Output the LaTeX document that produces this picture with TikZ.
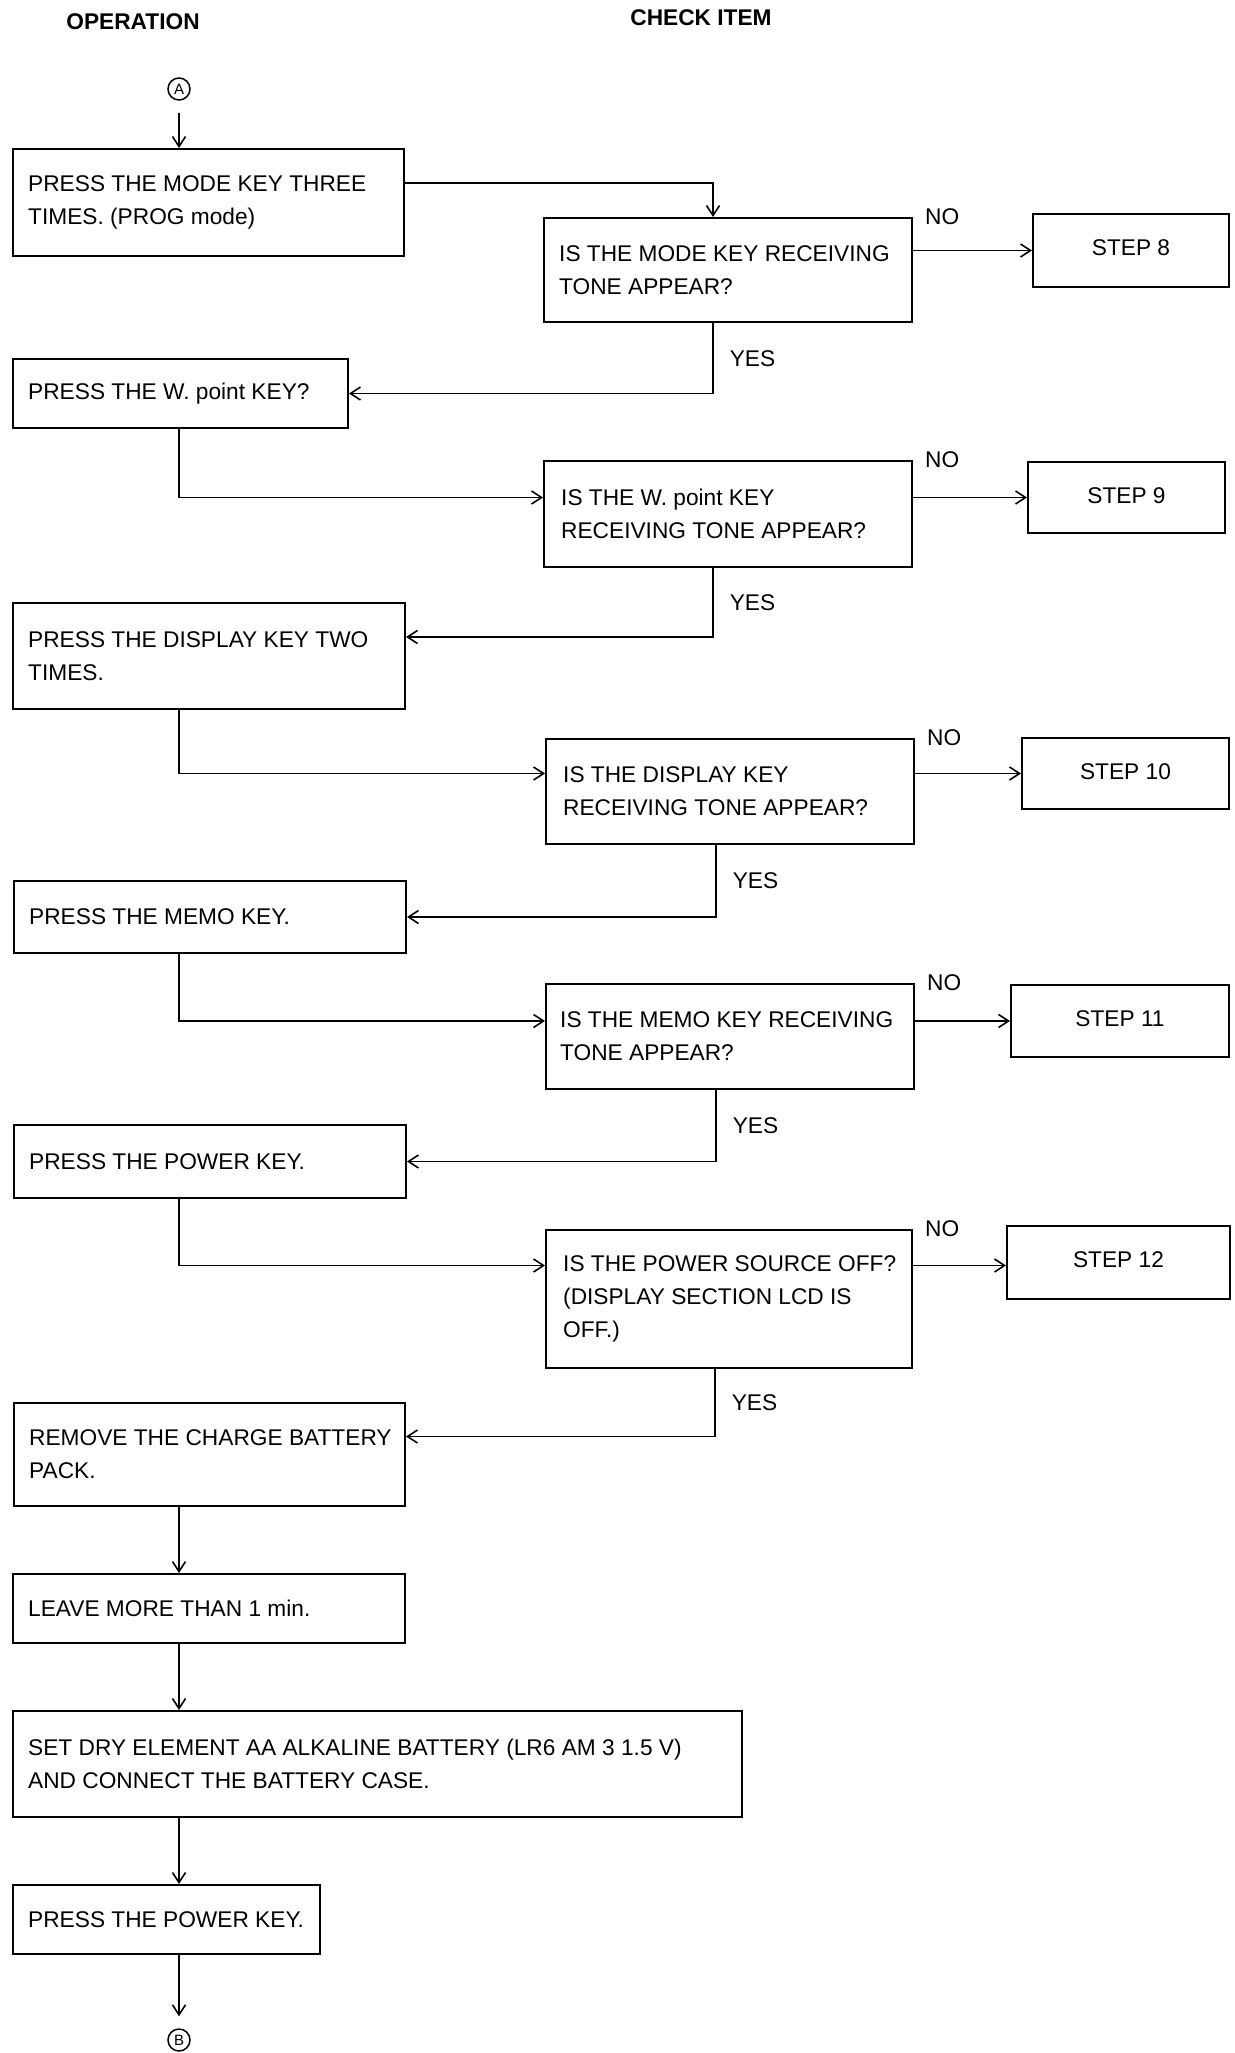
\documentclass[tikz,border=0pt]{standalone}
\usepackage{fontspec}
\setmainfont{Liberation Sans}
\usetikzlibrary{arrows.meta,calc}
\begin{document}
\begin{tikzpicture}[x=1pt,y=-1pt,
  box/.style={draw, line width=2pt, anchor=north west, inner sep=0pt},
  stepbox/.style={box, font=\fontsize{22.7pt}{33pt}\selectfont},
  txt/.style={anchor=west, inner sep=0pt, align=left, font=\fontsize{22.7pt}{33pt}\selectfont},
  lbl/.style={anchor=west, inner sep=0pt, font=\fontsize{22.7pt}{33pt}\selectfont},
  ttl/.style={inner sep=0pt, font=\fontsize{22.7pt}{27pt}\selectfont\bfseries},
  conn/.style={line width=1.6pt, -{Straight Barb[length=10pt,width=13pt,line width=1.6pt]}},
  term/.style={circle, draw, line width=1.5pt, minimum size=22pt, inner sep=0pt, font=\fontsize{15pt}{15pt}\selectfont}
]
\fill[white] (0,0) rectangle (1234,2053);
\useasboundingbox (0,0) rectangle (1234,2053);

% column headings
\node[ttl] (hop) at (133,22) {OPERATION};
\node[ttl] (hck) at (701,18) {CHECK ITEM};

% connectors in and out
\node[term] (A) at (179,89) {A};
\node[term] (B) at (179,2040) {B};

% operation boxes
\node[box, minimum width=391pt, minimum height=107pt] (o1) at (12,148) {};
\node[txt] (o1t) at ([xshift=16pt]o1.west) {PRESS THE MODE KEY THREE\\TIMES. (PROG mode)};
\node[box, minimum width=335pt, minimum height=69pt] (o2) at (12,358) {};
\node[txt] (o2t) at ([xshift=16pt]o2.west) {PRESS THE W. point KEY?};
\node[box, minimum width=392pt, minimum height=106pt] (o3) at (12,602) {};
\node[txt] (o3t) at ([xshift=16pt]o3.west) {PRESS THE DISPLAY KEY TWO\\TIMES.};
\node[box, minimum width=392pt, minimum height=72pt] (o4) at (13,880) {};
\node[txt] (o4t) at ([xshift=16pt]o4.west) {PRESS THE MEMO KEY.};
\node[box, minimum width=392pt, minimum height=73pt] (o5) at (13,1124) {};
\node[txt] (o5t) at ([xshift=16pt]o5.west) {PRESS THE POWER KEY.};
\node[box, minimum width=391pt, minimum height=103pt] (o6) at (13,1402) {};
\node[txt] (o6t) at ([xshift=16pt]o6.west) {REMOVE THE CHARGE BATTERY\\PACK.};
\node[box, minimum width=392pt, minimum height=69pt] (o7) at (12,1573) {};
\node[txt] (o7t) at ([xshift=16pt]o7.west) {LEAVE MORE THAN 1 min.};
\node[box, minimum width=729pt, minimum height=106pt] (o8) at (12,1710) {};
\node[txt] (o8t) at ([xshift=16pt]o8.west) {SET DRY ELEMENT AA ALKALINE BATTERY (LR6 AM 3 1.5 V)\\AND CONNECT THE BATTERY CASE.};
\node[box, minimum width=307pt, minimum height=69pt] (o9) at (12,1884) {};
\node[txt] (o9t) at ([xshift=16pt]o9.west) {PRESS THE POWER KEY.};

% check boxes
\node[box, minimum width=368pt, minimum height=104pt] (d1) at (543,217) {};
\node[txt] (d1t) at ([xshift=16pt]d1.west) {IS THE MODE KEY RECEIVING\\TONE APPEAR?};
\node[box, minimum width=368pt, minimum height=106pt] (d2) at (543,460) {};
\node[txt] (d2t) at ([xshift=18pt]d2.west) {IS THE W. point KEY\\RECEIVING TONE APPEAR?};
\node[box, minimum width=368pt, minimum height=105pt] (d3) at (545,738) {};
\node[txt] (d3t) at ([xshift=18pt]d3.west) {IS THE DISPLAY KEY\\RECEIVING TONE APPEAR?};
\node[box, minimum width=368pt, minimum height=105pt] (d4) at (545,983) {};
\node[txt] (d4t) at ([xshift=15pt]d4.west) {IS THE MEMO KEY RECEIVING\\TONE APPEAR?};
\node[box, minimum width=366pt, minimum height=138pt] (d5) at (545,1229) {};
\node[txt] (d5t) at ([xshift=18pt]d5.west) {IS THE POWER SOURCE OFF?\\(DISPLAY SECTION LCD IS\\OFF.)};

% step boxes
\node[stepbox, minimum width=196pt, minimum height=73pt] (s8) at (1032,213) {};
\node[lbl, anchor=center] (s8t) at ([yshift=3pt]s8.center) {STEP 8};
\node[stepbox, minimum width=197pt, minimum height=71pt] (s9) at (1027,461) {};
\node[lbl, anchor=center] (s9t) at ([yshift=2pt]s9.center) {STEP 9};
\node[stepbox, minimum width=207pt, minimum height=71pt] (s10) at (1021,737) {};
\node[lbl, anchor=center] (s10t) at ([yshift=2pt]s10.center) {STEP 10};
\node[stepbox, minimum width=218pt, minimum height=72pt] (s11) at (1010,984) {};
\node[lbl, anchor=center] (s11t) at ([yshift=2pt]s11.center) {STEP 11};
\node[stepbox, minimum width=223pt, minimum height=73pt] (s12) at (1006,1225) {};
\node[lbl, anchor=center] (s12t) at ([yshift=3pt]s12.center) {STEP 12};

% NO labels
\node[lbl] (n1) at ([xshift=12pt]d1.north east) {NO};
\node[lbl] (n2) at ([xshift=12pt]d2.north east) {NO};
\node[lbl] (n3) at ([xshift=12pt]d3.north east) {NO};
\node[lbl] (n4) at ([xshift=12pt]d4.north east) {NO};
\node[lbl] (n5) at ([xshift=12pt]d5.north east) {NO};

% flow
\draw[conn, shorten <=12pt] (A.south) -- (A.south |- o1.north);
\draw[conn] ([yshift=19.5pt]o1.east) -| ([xshift=-15pt]d1.north);
\draw[conn] (d1.east |- s8.west) -- (s8.west);
\draw[conn] ([xshift=-15pt]d1.south) |- (o2.east) node[pos=0.25, lbl, xshift=16pt] (y1) {YES};

\draw[conn] (A |- o2.south) |- (d2.west |- s9.west);
\draw[conn] (d2.east |- s9.west) -- (s9.west);
\draw[conn] ([xshift=-15pt]d2.south) |- ([yshift=19pt]o3.east) node[pos=0.25, lbl, xshift=16pt] (y2) {YES};

\draw[conn] (A |- o3.south) |- (d3.west |- s10.west);
\draw[conn] (d3.east |- s10.west) -- (s10.west);
\draw[conn] ([xshift=-14pt]d3.south) |- (o4.east) node[pos=0.25, lbl, xshift=16pt] (y3) {YES};

\draw[conn] (A |- o4.south) |- (d4.west |- s11.west);
\draw[conn] (d4.east |- s11.west) -- (s11.west);
\draw[conn] ([xshift=-14pt]d4.south) |- (o5.east) node[pos=0.25, lbl, xshift=16pt] (y4) {YES};

\draw[conn] (A |- o5.south) |- ([yshift=-3pt]d5.west |- s12.west);
\draw[conn] ([yshift=-3pt]d5.east |- s12.west) -- ([yshift=-3pt]s12.west);
\draw[conn] ([xshift=-14pt]d5.south) |- ([yshift=18pt]o6.east) node[pos=0.25, lbl, xshift=16pt] (y5) {YES};

\draw[conn] (A |- o6.south) -- (A |- o7.north);
\draw[conn] (A |- o7.south) -- (A |- o8.north);
\draw[conn] (A |- o8.south) -- (A |- o9.north);
\draw[conn, shorten >=12pt] (A |- o9.south) -- (B.north);
\end{tikzpicture}
\end{document}
